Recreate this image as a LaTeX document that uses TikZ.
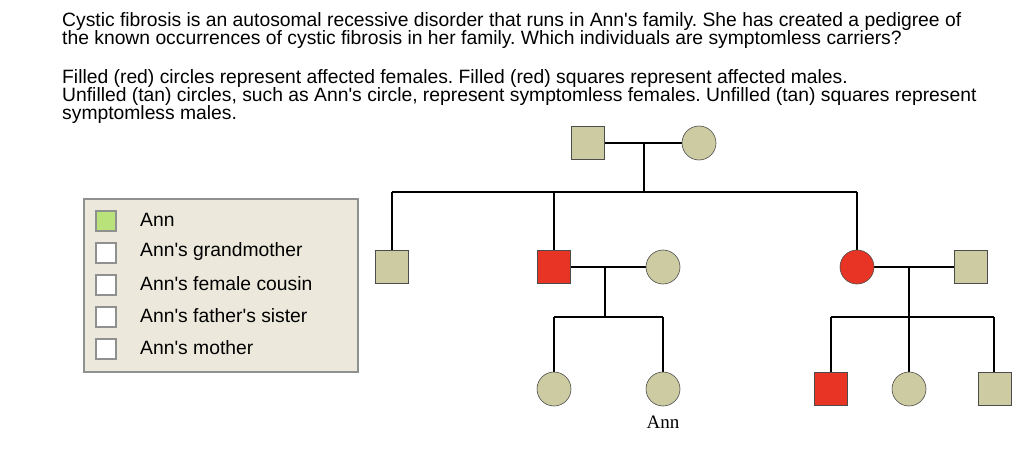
\documentclass[tikz,border=0pt]{standalone}
\usepackage{fontspec}
\setmainfont{Liberation Sans}[Ligatures=TeXOff]
\newfontfamily\serifann{Liberation Serif}
\frenchspacing
\definecolor{tan}{HTML}{CDCBA2}
\definecolor{aff}{HTML}{E83424}
\definecolor{legbg}{HTML}{ECE9DC}
\definecolor{legborder}{HTML}{8F918F}
\definecolor{chkgreen}{HTML}{B9E27A}
\begin{document}
\begin{tikzpicture}[x=1pt,y=-1pt,
  txt/.style={anchor=base west,inner sep=0pt,font=\fontsize{19.3}{21}\selectfont\frenchspacing},
  male/.style={draw=black!70,line width=0.6pt,minimum size=33pt,inner sep=0pt,rectangle},
  female/.style={draw=black!70,line width=0.6pt,minimum size=34pt,inner sep=0pt,circle},
  unaff/.style={fill=tan},
  affd/.style={fill=aff},
  pline/.style={line width=2.6pt,black},
  chk/.style={draw=legborder,line width=2pt,fill=white,minimum size=20pt,inner sep=0pt},
  legtxt/.style={anchor=west,inner sep=0pt,font=\fontsize{19.3}{21}\selectfont}]
\useasboundingbox (0,0) rectangle (1024,449);
\fill[white] (0,0) rectangle (1024,449);
% question text
\node[txt] (t1) at (62,26.7) {Cystic fibrosis is an autosomal recessive disorder that runs in Ann's family. She has created a pedigree of};
\node[txt] (t2) at (62,44.3) {the known occurrences of cystic fibrosis in her family. Which individuals are symptomless carriers?};
\node[txt] (t3) at (62,84) {Filled (red) circles represent affected females. Filled (red) squares represent affected males.};
\node[txt] (t4) at (62,101.7) {Unfilled (tan) circles, such as Ann's circle, represent symptomless females. Unfilled (tan) squares represent};
\node[txt] (t5) at (62,119.4) {symptomless males.};
% legend
\node[draw=legborder,line width=2pt,fill=legbg,minimum width=274pt,minimum height=173pt,inner sep=0pt] (leg) at (220.5,285) {};
\node[chk,fill=chkgreen] (c1) at (106,221) {};
\node[chk] (c2) at (106,253) {};
\node[chk] (c3) at (106,285) {};
\node[chk] (c4) at (106,317) {};
\node[chk] (c5) at (106,349) {};
\node[legtxt] (l1) at (140,220) {Ann};
\node[legtxt] (l2) at (140,252) {Ann's grandmother};
\node[legtxt] (l3) at (140,284) {Ann's female cousin};
\node[legtxt] (l4) at (140,316) {Ann's father's sister};
\node[legtxt] (l5) at (140,348) {Ann's mother};
% pedigree coordinates
\coordinate (g) at (644,143);
\coordinate (gb) at (644,192);
\coordinate (sl) at (392,192);
\coordinate (sm) at (554,192);
\coordinate (sr) at (857,192);
\coordinate (p1) at (605,267);
\coordinate (p1b) at (605,317);
\coordinate (c1l) at (554,317);
\coordinate (c1r) at (663,317);
\coordinate (p2) at (909,267);
\coordinate (p2b) at (909,317);
\coordinate (c2l) at (831,317);
\coordinate (c2r) at (994,317);
% lines (drawn first)
\draw[pline] (588,143) -- (699,143);
\draw[pline] (g) -- (gb);
\draw[pline] (sl) -- (sr);
\draw[pline] (sl) -- (392,267);
\draw[pline] (sm) -- (554,267);
\draw[pline] (sr) -- (857,267);
\draw[pline] (554,267) -- (663,267);
\draw[pline] (p1) -- (p1b);
\draw[pline] (c1l) -- (c1r);
\draw[pline] (c1l) -- (554,389);
\draw[pline] (c1r) -- (663,389);
\draw[pline] (857,267) -- (971,267);
\draw[pline] (p2) -- (p2b);
\draw[pline] (c2l) -- (c2r);
\draw[pline] (c2l) -- (831,389);
\draw[pline] (p2b) -- (909,389);
\draw[pline] (c2r) -- (994,389);
% individuals
\node[male,unaff] (gf) at (588,143) {};
\node[female,unaff] (gm) at (699,143) {};
\node[male,unaff] (uncle) at (392,267) {};
\node[male,affd] (father) at (554,267) {};
\node[female,unaff] (mother) at (663,267) {};
\node[female,affd] (aunt) at (857,267) {};
\node[male,unaff] (auntH) at (971,267) {};
\node[female,unaff] (sister) at (554,389) {};
\node[female,unaff] (ann) at (663,389) {};
\node[male,affd] (cousinM) at (831,389) {};
\node[female,unaff] (cousinF) at (909,389) {};
\node[male,unaff] (cousinM2) at (995,389) {};
\node[anchor=base,inner sep=0pt,font=\serifann\fontsize{19}{21}\selectfont] (annlbl) at (663,428) {Ann};
\end{tikzpicture}
\end{document}
